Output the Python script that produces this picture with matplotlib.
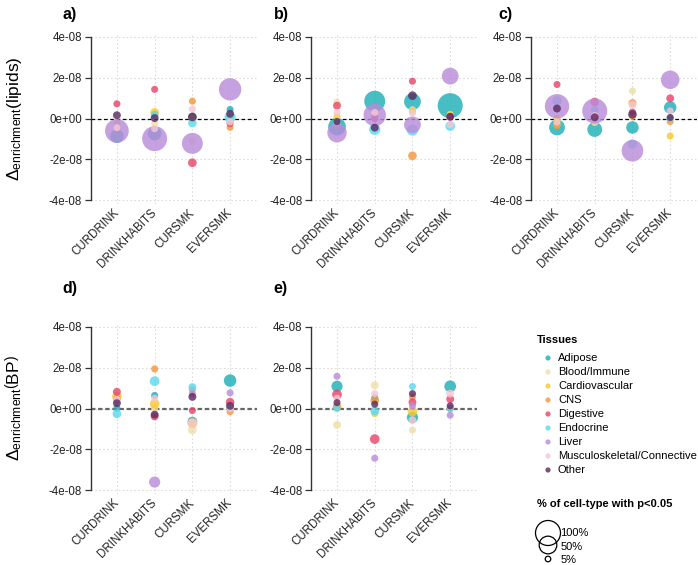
import matplotlib
matplotlib.use('Agg')
import matplotlib.pyplot as plt
import numpy as np

plt.rcParams['font.family'] = ['Liberation Sans', 'DejaVu Sans']
plt.rcParams['mathtext.fontset'] = 'custom'
plt.rcParams['mathtext.rm'] = 'Liberation Sans'
plt.rcParams['mathtext.it'] = 'Liberation Sans:italic'
plt.rcParams['mathtext.bf'] = 'Liberation Sans:bold'

categories = ['CURDRINK', 'DRINKHABITS', 'CURSMK', 'EVERSMK']
tissues = ['Adipose', 'Blood/Immune', 'Cardiovascular', 'CNS', 'Digestive',
           'Endocrine', 'Liver', 'Musculoskeletal/Connective', 'Other']
tissue_colors = ['#1FAFB8', '#EEDFA8', '#F9C92E', '#F5983A', '#E8476C',
                 '#5CDAF2', '#BA8CDA', '#F8C6D2', '#5E2B61']

yticks = [-4e-08, -2e-08, 0.0, 2e-08, 4e-08]
ytick_labels = ['-4e-08', '-2e-08', '0e+00', '2e-08', '4e-08']

# values in units of 1e-8; rows = tissues, cols = categories
a_vals = [[-0.87, -0.74, 0.05, 0.44],
          [-0.30, -0.25, -1.10, -0.10],
          [-0.20, 0.30, 0.02, 0.10],
          [-0.45, 0.20, 0.85, -0.43],
          [0.72, 1.43, -2.17, -0.25],
          [-0.40, 0.15, -0.22, 0.06],
          [-0.61, -0.99, -1.22, 1.43],
          [-0.45, -0.50, 0.46, -0.17],
          [0.16, 0.02, 0.08, 0.23]]
a_pct = [[30, 30, 12, 8], [8, 8, 8, 8], [8, 12, 8, 8], [8, 8, 8, 8],
         [8, 8, 12, 8], [8, 10, 12, 20], [90, 100, 70, 80], [8, 8, 8, 8],
         [10, 10, 12, 10]]

b_vals = [[-0.40, 0.85, 0.83, 0.63],
          [0.80, 0.10, 0.43, 0.20],
          [0.08, 0.05, 0.35, 0.17],
          [-0.30, 0.10, -1.83, 0.10],
          [0.63, 0.00, 1.83, 0.10],
          [-0.20, -0.53, -0.57, -0.37],
          [-0.70, 0.17, -0.31, 2.08],
          [0.30, 0.30, 0.27, -0.30],
          [-0.15, -0.45, 1.12, 0.08]]
b_pct = [[50, 70, 45, 100], [8, 8, 8, 8], [8, 8, 8, 8], [8, 8, 12, 8],
         [10, 8, 8, 8], [10, 20, 20, 15], [60, 80, 45, 45], [8, 8, 8, 8],
         [8, 10, 12, 10]]

c_vals = [[-0.44, -0.54, -0.44, 0.54],
          [-0.30, -0.20, 1.35, 0.00],
          [0.00, 0.00, 0.10, -0.86],
          [-0.36, 0.10, 0.76, -0.15],
          [1.67, 0.81, 0.32, 0.99],
          [0.86, 0.42, -1.26, 0.00],
          [0.60, 0.37, -1.58, 1.90],
          [-0.17, 0.15, 0.68, 0.37],
          [0.49, 0.06, 0.20, 0.05]]
c_pct = [[40, 35, 25, 25], [8, 8, 8, 8], [8, 8, 8, 8], [8, 8, 10, 8],
         [8, 12, 8, 10], [15, 10, 15, 8], [95, 100, 75, 55], [8, 8, 10, 8],
         [10, 10, 12, 8]]

d_vals = [[0.02, 0.64, -0.64, 1.37],
          [0.50, 0.00, -1.05, 0.00],
          [0.59, 0.23, -0.72, 0.00],
          [0.50, 1.94, 0.92, -0.16],
          [0.82, -0.39, -0.10, 0.31],
          [-0.26, 1.34, 1.05, 0.05],
          [0.40, -3.61, 0.72, 0.77],
          [0.45, 0.50, -0.72, 0.00],
          [0.26, -0.30, 0.57, 0.13]]
d_pct = [[8, 8, 15, 25], [8, 8, 12, 8], [15, 15, 15, 8], [8, 8, 8, 8],
         [10, 10, 8, 12], [12, 15, 10, 10], [8, 20, 8, 8], [8, 8, 15, 8],
         [10, 10, 10, 10]]

e_vals = [[1.09, 0.52, -0.44, 1.09],
          [-0.80, 1.14, -1.06, 0.00],
          [0.05, -0.25, -0.15, 0.00],
          [0.08, 0.40, 0.57, 0.00],
          [0.69, -1.50, 0.31, 0.46],
          [0.00, -0.12, 1.08, 0.00],
          [1.58, -2.44, 0.13, -0.33],
          [0.50, 0.73, -0.57, 0.73],
          [0.29, 0.21, 0.73, 0.13]]
e_pct = [[20, 8, 20, 22], [10, 10, 8, 8], [8, 8, 15, 8], [12, 12, 8, 8],
         [15, 15, 10, 10], [8, 12, 8, 8], [8, 8, 8, 8], [8, 8, 10, 10],
         [8, 8, 8, 8]]

size_breaks = [100, 50, 5]

W_PX, H_PX = 698, 565
DPI = 100
fig = plt.figure(figsize=(W_PX / DPI, H_PX / DPI), dpi=DPI)


def rect(left, top, w=166.0, h=171.2):
    return [left / W_PX, 1 - (top + h) / H_PX, w / W_PX, h / H_PX]


def pct_to_s(p):
    d_px = 25.0 * np.sqrt(np.asarray(p, dtype=float) / 100.0)
    return (d_px * 72.0 / DPI) ** 2


panels = [
    ('a)', a_vals, a_pct, rect(90.5, 32.9), 'lipids', False, (70, 14)),
    ('b)', b_vals, b_pct, rect(310.6, 32.9), None, False, (281, 14)),
    ('c)', c_vals, c_pct, rect(530.6, 32.9), None, False, (505, 14)),
    ('d)', d_vals, d_pct, rect(90.5, 322.9), 'BP', True, (70, 289)),
    ('e)', e_vals, e_pct, rect(310.6, 322.9), None, True, (280, 289)),
]

x = np.arange(1, len(categories) + 1)
for label, vals, pct, r, ylab, gray_zero, tpos in panels:
    ax = fig.add_axes(r)
    ax.set_xlim(0.3, 4.7)
    ax.set_ylim(-4.2e-08, 4.2e-08)
    for ti in range(len(tissues)):
        ax.scatter(x, np.array(vals[ti]) * 1e-08, s=pct_to_s(pct[ti]),
                   color=tissue_colors[ti], alpha=0.82, edgecolors='none',
                   zorder=3)
    ax.set_yticks(yticks)
    ax.set_yticklabels(ytick_labels, fontsize=8.3, color='#222222')
    ax.set_xticks(x)
    ax.set_xticklabels(categories, rotation=45, ha='right', va='center',
                       rotation_mode='anchor', fontsize=8.3, color='#222222')
    ax.tick_params(axis='x', length=0, pad=5)
    ax.tick_params(axis='y', length=4, width=0.9, color='#333333', pad=2)
    ax.grid(True, color='#dcdcdc', linestyle=(0, (1.5, 2)), linewidth=0.8)
    ax.set_axisbelow(True)
    for sp in ['top', 'right', 'bottom']:
        ax.spines[sp].set_visible(False)
    ax.spines['left'].set_bounds(-4e-08, 4e-08)
    ax.spines['left'].set_color('#333333')
    ax.spines['left'].set_linewidth(1.0)
    if gray_zero:
        ax.axhline(0, color='#666666', linestyle=(0, (2, 1.2)), linewidth=1.6,
                   zorder=2)
    else:
        ax.axhline(0, color='black', linestyle=(0, (3, 2)), linewidth=0.9,
                   zorder=2)
    fig.text(tpos[0] / W_PX, 1 - tpos[1] / H_PX, label, fontsize=11.5,
             fontweight='bold', ha='center', va='center')
    if ylab is not None:
        yc = r[1] + r[3] / 2
        fig.text(14 / W_PX, yc,
                 r'$\Delta_{\mathrm{enrichment}}\left(\mathrm{' + ylab + r'}\right)$',
                 rotation=90, ha='center', va='center', fontsize=12.5)

# legend area in pixel coordinates
lax = fig.add_axes([520 / W_PX, 0, 178 / W_PX, 345 / H_PX])
lax.set_xlim(520, 698)
lax.set_ylim(565, 220)
lax.axis('off')
lax.text(537, 340, 'Tissues', fontsize=8, fontweight='bold', ha='left',
         va='center')
for i, (t, c) in enumerate(zip(tissues, tissue_colors)):
    yy = 358 + 14 * i
    lax.scatter([548], [yy], s=(5.2 * 0.72) ** 2, color=c, alpha=0.82,
                edgecolors='none', clip_on=False)
    lax.text(558, yy, t, fontsize=8, ha='left', va='center')
lax.text(537, 504, '% of cell-type with p<0.05', fontsize=8,
         fontweight='bold', ha='left', va='center')
size_y = [533, 545, 559]
for p, yy in zip(size_breaks, size_y):
    lax.scatter([548], [yy], s=pct_to_s(p), facecolors='none',
                edgecolors='black', linewidths=0.9, clip_on=False)
lax.text(560, 533, '100%', fontsize=8, ha='left', va='center')
lax.text(561, 547, '50%', fontsize=8, ha='left', va='center')
lax.text(561, 560, '5%', fontsize=8, ha='left', va='center')

fig.savefig('out.png', dpi=DPI)
